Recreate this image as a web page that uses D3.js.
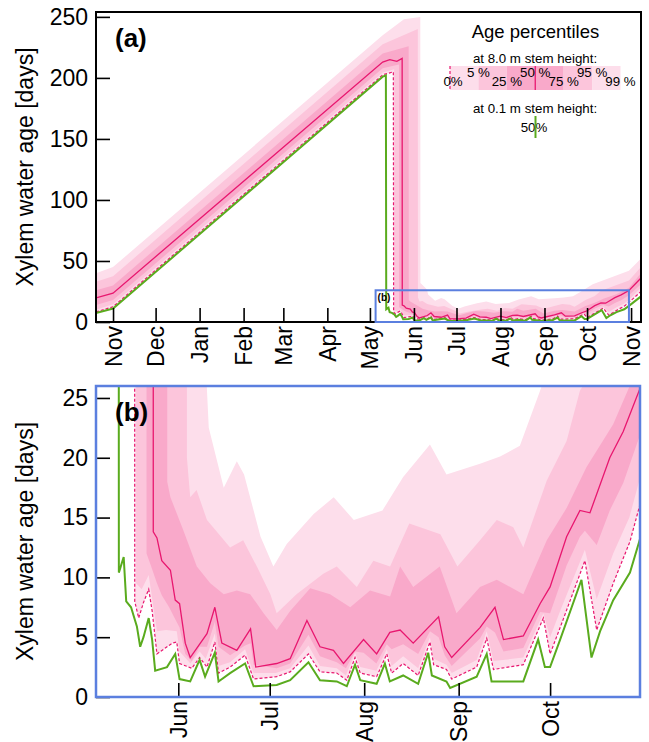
<!DOCTYPE html>
<html>
<head>
<meta charset="utf-8">
<script src="https://cdn.jsdelivr.net/npm/d3@7"></script>
<style>
  body { margin: 0; background: #fff; }
  svg { font-family: "Liberation Sans", Arial, sans-serif; }
</style>
</head>
<body>
<svg id="chart" width="649" height="742"></svg>
<script>
// ---- data: [date "YYYY-MM-DD HH", xylem water age in days] ----
// 50% at 0.1 m stem height (green)
var green01 = [
  ["2014-10-20 00", 7.4], ["2014-11-01 00", 11], ["2015-05-10 00", 201], ["2015-05-12 06", 202],
  ["2015-05-12 12", 10.4], ["2015-05-14 02", 11.7], ["2015-05-14 22", 8.0], ["2015-05-16 12", 7.5],
  ["2015-05-18 10", 5.9], ["2015-05-19 12", 4.2], ["2015-05-20 14", 5.0], ["2015-05-22 07", 6.6],
  ["2015-05-23 10", 4.8], ["2015-05-24 10", 2.2], ["2015-05-28 07", 2.5], ["2015-05-31 00", 3.6],
  ["2015-06-01 10", 1.5], ["2015-06-04 22", 1.3], ["2015-06-08 00", 3.1], ["2015-06-09 19", 1.7],
  ["2015-06-13 00", 3.7], ["2015-06-14 05", 1.3], ["2015-06-18 00", 2.0], ["2015-06-22 22", 2.8],
  ["2015-06-25 17", 0.9], ["2015-07-03 07", 1.0], ["2015-07-07 17", 1.4], ["2015-07-13 17", 2.9],
  ["2015-07-17 12", 1.4], ["2015-07-23 00", 1.3], ["2015-07-26 07", 0.9], ["2015-07-29 00", 2.7],
  ["2015-07-30 17", 1.4], ["2015-08-05 02", 1.1], ["2015-08-07 19", 2.8], ["2015-08-09 10", 1.3],
  ["2015-08-13 19", 1.8], ["2015-08-18 17", 1.1], ["2015-08-22 00", 3.7], ["2015-08-23 05", 1.8],
  ["2015-08-28 00", 1.3], ["2015-08-29 05", 0.75], ["2015-09-06 22", 1.7], ["2015-09-10 05", 3.6],
  ["2015-09-11 19", 1.3], ["2015-09-22 05", 1.3], ["2015-09-27 02", 4.8], ["2015-09-29 07", 2.5],
  ["2015-10-01 00", 2.5], ["2015-10-04 07", 4.8], ["2015-10-11 07", 9.8], ["2015-10-14 14", 3.3],
  ["2015-10-17 10", 5.5], ["2015-10-21 17", 8.1], ["2015-10-27 05", 10.4], ["2015-10-30 12", 13.2],
  ["2015-11-08 00", 21]
];
// percentiles at 8.0 m stem height
var p0 = [
  ["2014-10-20 00", 8.2], ["2014-11-01 00", 12.5], ["2015-05-10 00", 202.5], ["2015-05-17 12", 205],
  ["2015-05-17 17", 8.0], ["2015-05-19 00", 6.6], ["2015-05-20 14", 7.9], ["2015-05-22 07", 9.0],
  ["2015-05-23 10", 7.2], ["2015-05-25 00", 3.6], ["2015-05-30 00", 4.5], ["2015-05-31 12", 4.6],
  ["2015-06-01 10", 2.8], ["2015-06-05 10", 2.4], ["2015-06-08 00", 3.3], ["2015-06-10 10", 2.5],
  ["2015-06-13 00", 4.6], ["2015-06-14 05", 2.0], ["2015-06-18 00", 2.5], ["2015-06-22 22", 3.5],
  ["2015-06-25 17", 1.5], ["2015-07-03 07", 1.7], ["2015-07-07 17", 2.1], ["2015-07-13 17", 3.6],
  ["2015-07-17 12", 2.1], ["2015-07-23 00", 2.0], ["2015-07-26 07", 1.4], ["2015-07-29 00", 3.3],
  ["2015-07-30 17", 2.0], ["2015-08-05 02", 1.7], ["2015-08-08 10", 3.6], ["2015-08-10 00", 2.0],
  ["2015-08-13 19", 2.8], ["2015-08-18 17", 1.8], ["2015-08-22 14", 4.6], ["2015-08-23 19", 2.7],
  ["2015-08-28 00", 2.3], ["2015-08-29 17", 1.5], ["2015-09-06 22", 2.5], ["2015-09-10 05", 4.9],
  ["2015-09-12 10", 2.3], ["2015-09-22 05", 2.7], ["2015-09-28 19", 6.6], ["2015-10-01 00", 3.6],
  ["2015-10-04 07", 5.8], ["2015-10-12 10", 11.4], ["2015-10-16 07", 5.6], ["2015-10-21 17", 9.5],
  ["2015-10-27 05", 13.0], ["2015-10-30 12", 16.1], ["2015-11-08 00", 25]
];
var p5 = [
  ["2014-10-20 00", 10], ["2014-11-01 00", 14.5], ["2015-05-10 00", 204.5], ["2015-05-18 02", 207],
  ["2015-05-18 04", 9.5], ["2015-05-20 00", 9], ["2015-05-22 07", 10.2], ["2015-05-25 00", 5.5],
  ["2015-05-28 00", 5.6], ["2015-05-31 12", 5.5], ["2015-06-01 10", 3.8], ["2015-06-05 00", 2.8],
  ["2015-06-08 00", 3.8], ["2015-06-10 00", 3.2], ["2015-06-13 00", 5.3], ["2015-06-14 05", 2.6],
  ["2015-06-18 00", 2.9], ["2015-06-22 22", 4.0], ["2015-06-25 17", 2.0], ["2015-07-03 00", 2.0],
  ["2015-07-07 17", 2.4], ["2015-07-13 17", 4.3], ["2015-07-17 12", 2.6], ["2015-07-23 00", 2.4],
  ["2015-07-26 00", 1.8], ["2015-07-29 00", 3.7], ["2015-07-30 17", 2.5], ["2015-08-05 00", 2.2],
  ["2015-08-08 10", 4.0], ["2015-08-10 00", 2.6], ["2015-08-13 19", 3.4], ["2015-08-18 17", 2.4],
  ["2015-08-22 14", 5.0], ["2015-08-23 19", 3.2], ["2015-08-28 00", 2.7], ["2015-08-29 17", 2.0],
  ["2015-09-06 22", 3.1], ["2015-09-10 05", 5.5], ["2015-09-12 10", 3.0], ["2015-09-22 05", 3.3],
  ["2015-09-28 19", 7.0], ["2015-10-01 00", 5.0], ["2015-10-04 07", 7.2], ["2015-10-12 10", 12.3],
  ["2015-10-16 07", 8.2], ["2015-10-21 17", 12.0], ["2015-10-27 00", 15.0], ["2015-10-30 12", 18.3],
  ["2015-11-08 00", 28]
];
var p25 = [
  ["2014-10-20 00", 14], ["2014-11-01 00", 18], ["2015-05-10 00", 208], ["2015-05-21 12", 211],
  ["2015-05-21 14", 12], ["2015-05-23 00", 11], ["2015-05-25 00", 9.5], ["2015-05-26 14", 8.5],
  ["2015-05-29 00", 7.5], ["2015-05-31 00", 6.5], ["2015-06-01 10", 5.8], ["2015-06-03 07", 3.6],
  ["2015-06-05 10", 3.0], ["2015-06-08 00", 4.2], ["2015-06-10 10", 4.2], ["2015-06-13 00", 6.3],
  ["2015-06-14 05", 4.2], ["2015-06-18 00", 3.5], ["2015-06-22 22", 4.3], ["2015-06-24 17", 4.5],
  ["2015-06-25 17", 2.7], ["2015-07-03 07", 2.4], ["2015-07-07 17", 2.8], ["2015-07-13 17", 5.2],
  ["2015-07-17 12", 3.4], ["2015-07-23 00", 2.9], ["2015-07-26 00", 2.4], ["2015-07-29 00", 3.8],
  ["2015-07-31 19", 3.7], ["2015-08-05 00", 2.8], ["2015-08-08 10", 4.4], ["2015-08-10 00", 4.0],
  ["2015-08-13 19", 4.4], ["2015-08-18 17", 3.6], ["2015-08-22 14", 5.5], ["2015-08-25 10", 5.0],
  ["2015-08-27 10", 3.5], ["2015-08-29 17", 2.6], ["2015-09-08 00", 4.9], ["2015-09-10 05", 5.9],
  ["2015-09-12 22", 5.4], ["2015-09-15 17", 3.8], ["2015-09-22 05", 4.1], ["2015-09-27 17", 7.1],
  ["2015-10-01 00", 7.0], ["2015-10-04 07", 9.4], ["2015-10-06 10", 11.0], ["2015-10-10 19", 13.4],
  ["2015-10-12 10", 13.9], ["2015-10-16 07", 12.7], ["2015-10-20 14", 15.6], ["2015-10-25 00", 17.9],
  ["2015-10-30 12", 21.9], ["2015-11-08 00", 31]
];
var p50 = [
  ["2014-10-20 00", 19.7], ["2014-11-01 00", 23.6], ["2015-05-10 00", 213], ["2015-05-15 00", 215],
  ["2015-05-20 00", 213.5], ["2015-05-23 17", 216], ["2015-05-23 19", 13.8], ["2015-05-25 00", 13.3],
  ["2015-05-26 14", 11.4], ["2015-05-29 10", 10.6], ["2015-05-31 00", 8.1], ["2015-06-01 10", 7.8],
  ["2015-06-03 07", 4.5], ["2015-06-04 22", 3.3], ["2015-06-10 10", 5.3], ["2015-06-13 00", 7.5],
  ["2015-06-15 07", 4.5], ["2015-06-20 05", 3.9], ["2015-06-24 17", 5.7], ["2015-06-26 10", 2.5],
  ["2015-07-03 07", 2.8], ["2015-07-07 17", 3.2], ["2015-07-13 05", 6.4], ["2015-07-17 12", 4.2],
  ["2015-07-21 22", 3.9], ["2015-07-25 05", 2.8], ["2015-07-31 19", 4.8], ["2015-08-05 02", 3.6],
  ["2015-08-09 10", 5.4], ["2015-08-12 19", 5.6], ["2015-08-17 02", 4.5], ["2015-08-25 10", 6.7],
  ["2015-08-27 10", 4.2], ["2015-08-29 17", 3.3], ["2015-09-08 00", 5.8], ["2015-09-12 22", 7.5],
  ["2015-09-15 17", 4.8], ["2015-09-22 05", 5.1], ["2015-09-27 17", 7.8], ["2015-10-01 00", 9.2],
  ["2015-10-06 10", 13.4], ["2015-10-10 19", 15.6], ["2015-10-14 02", 15.4], ["2015-10-20 14", 20.0],
  ["2015-10-25 00", 22.2], ["2015-10-30 12", 25.8], ["2015-11-08 00", 36]
];
var p75 = [
  ["2014-10-20 00", 26], ["2014-11-01 00", 30], ["2015-05-10 00", 220], ["2015-05-28 07", 226],
  ["2015-05-28 09", 18], ["2015-05-29 10", 16.7], ["2015-06-02 17", 13.9], ["2015-06-07 02", 10.9],
  ["2015-06-11 12", 9.5], ["2015-06-15 22", 8.6], ["2015-06-20 05", 8.9], ["2015-06-24 14", 8.6],
  ["2015-06-29 00", 7.0], ["2015-07-03 07", 5.6], ["2015-07-07 17", 7.2], ["2015-07-14 07", 9.1],
  ["2015-07-20 19", 8.6], ["2015-07-27 10", 7.5], ["2015-08-02 22", 8.9], ["2015-08-09 12", 8.4],
  ["2015-08-12 19", 10.9], ["2015-08-17 02", 9.2], ["2015-08-25 19", 10.9], ["2015-08-31 07", 7.0],
  ["2015-09-08 00", 9.2], ["2015-09-13 12", 9.8], ["2015-09-22 05", 8.6], ["2015-09-29 22", 13.1],
  ["2015-10-06 10", 15.8], ["2015-10-12 22", 19.2], ["2015-10-21 17", 22.8], ["2015-10-30 12", 28],
  ["2015-11-08 00", 40]
];
var p95 = [
  ["2014-10-20 00", 33], ["2014-11-01 00", 37.5], ["2015-05-10 00", 227.5], ["2015-06-03 18", 240],
  ["2015-06-03 20", 20], ["2015-06-04 22", 16.7], ["2015-06-07 00", 17.3], ["2015-06-10 10", 14.8],
  ["2015-06-18 00", 12.5], ["2015-06-22 07", 13.1], ["2015-06-26 19", 10.9], ["2015-07-01 05", 8.6],
  ["2015-07-03 07", 7.0], ["2015-07-09 19", 8.6], ["2015-07-18 14", 10.3], ["2015-07-23 00", 10.9],
  ["2015-07-29 14", 9.2], ["2015-08-04 00", 11.4], ["2015-08-09 12", 10.9], ["2015-08-15 19", 14.5],
  ["2015-08-26 00", 13.6], ["2015-08-31 14", 10.9], ["2015-09-08 00", 13.1], ["2015-09-13 12", 14.8],
  ["2015-09-18 22", 14.2], ["2015-09-22 05", 12.5], ["2015-09-29 22", 18.1], ["2015-10-06 10", 21.4],
  ["2015-10-10 19", 25.6], ["2015-10-30 12", 34], ["2015-11-08 00", 45]
];
var p99 = [
  ["2014-10-20 00", 40], ["2014-11-01 00", 45], ["2015-05-10 00", 235], ["2015-05-25 00", 248],
  ["2015-06-05 12", 250], ["2015-06-05 14", 32], ["2015-06-09 00", 28], ["2015-06-10 06", 26.5],
  ["2015-06-11 00", 22.5], ["2015-06-15 22", 17.5], ["2015-06-20 05", 19.7], ["2015-06-22 14", 18.6],
  ["2015-06-28 00", 13.4], ["2015-07-02 05", 10.9], ["2015-07-06 14", 12.8], ["2015-07-15 10", 15.3],
  ["2015-07-22 00", 16.7], ["2015-07-28 14", 14.8], ["2015-08-07 00", 15.6], ["2015-08-13 19", 18.4],
  ["2015-08-22 14", 21.1], ["2015-08-28 00", 18.6], ["2015-09-08 00", 19.5], ["2015-09-14 14", 20.1],
  ["2015-09-21 02", 21], ["2015-09-27 17", 25.6], ["2015-10-05 00", 31], ["2015-10-30 12", 42],
  ["2015-11-08 00", 52]
];

// axis ranges / ticks
var fullRange = ["2014-10-20 00", "2015-11-08 00"];
var zoomRange = ["2015-05-05 00", "2015-10-30 12"];
var yTicksA = [0, 50, 100, 150, 200, 250];
var yTicksB = [0, 5, 10, 15, 20, 25];
var legendPct = [0, 5, 25, 50, 75, 95, 99];
var legendLabels = ["0%", "5 %", "25 %", "50 %", "75 %", "95 %", "99 %"];

var light = "#fddeeb", mid = "#fcc5db", dark = "#f9a9ca";
var pink = "#e8176f", green = "#5aab1e", blue = "#5b7fdf";

var parse = d3.timeParse("%Y-%m-%d %H");
var svg = d3.select("#chart");

// filled from zero upwards, back to front, so each band shows between two percentiles
var fills = [
  {data: p99, color: light}, {data: p95, color: mid}, {data: p75, color: dark},
  {data: p25, color: mid}, {data: p5, color: light}, {data: p0, color: "#fff"}
];

function drawPanel(key, x, y, yTicks, frameColor, frameWidth) {
  var l = x.range()[0], r = x.range()[1], t = y.range()[1], b = y.range()[0];
  var g = svg.append("g");

  svg.append("clipPath").attr("id", "clip" + key)
    .append("rect").attr("x", l).attr("y", t).attr("width", r - l).attr("height", b - t);
  var plot = g.append("g").attr("clip-path", "url(#clip" + key + ")");

  var area = d3.area()
    .x(function(d) { return x(parse(d[0])); })
    .y0(b)
    .y1(function(d) { return y(d[1]); });
  var line = d3.line()
    .x(function(d) { return x(parse(d[0])); })
    .y(function(d) { return y(d[1]); });

  fills.forEach(function(f) {
    plot.append("path").datum(f.data).attr("fill", f.color).attr("d", area);
  });
  plot.append("path").datum(p0).attr("fill", "none").attr("stroke", pink)
    .attr("stroke-width", 1.2).attr("stroke-dasharray", "3,2").attr("d", line);
  plot.append("path").datum(p50).attr("fill", "none").attr("stroke", pink)
    .attr("stroke-width", 1.3).attr("d", line);
  plot.append("path").datum(green01).attr("fill", "none").attr("stroke", green)
    .attr("stroke-width", 2).attr("d", line);

  // y axis, ticks pointing inward
  var ya = g.append("g").attr("transform", "translate(" + l + ",0)")
    .call(d3.axisLeft(y).tickValues(yTicks).tickSize(-14).tickPadding(8));
  // x axis, month ticks, labels turned upright
  var xa = g.append("g").attr("transform", "translate(0," + b + ")")
    .call(d3.axisBottom(x).ticks(d3.timeMonth.every(1))
      .tickFormat(d3.timeFormat("%b")).tickSize(-14));
  xa.selectAll("text")
    .attr("transform", "rotate(-90)")
    .attr("text-anchor", "end")
    .attr("x", -4).attr("y", 0).attr("dy", "0.35em");

  [ya, xa].forEach(function(a) {
    a.select(".domain").remove();
    a.selectAll("line").attr("stroke", "#000").attr("stroke-width", 1.6);
    a.selectAll("text").attr("fill", "#000").style("font-size", "23px")
      .style("font-family", "'Liberation Sans', Arial, sans-serif");
  });

  g.append("text")
    .attr("transform", "translate(33," + (t + b) / 2 + ") rotate(-90)")
    .attr("text-anchor", "middle")
    .style("font-size", "23px")
    .text("Xylem water age [days]");

  g.append("rect").attr("x", l).attr("y", t).attr("width", r - l).attr("height", b - t)
    .attr("fill", "none").attr("stroke", frameColor).attr("stroke-width", frameWidth);

  g.append("text").attr("x", l + 19).attr("y", t + 35)
    .style("font-size", "26px").style("font-weight", "bold")
    .text("(" + key + ")");
  return g;
}

// panel (a): full year
var xA = d3.scaleTime().domain(fullRange.map(parse)).range([96, 641]);
var yA = d3.scaleLinear().domain([0, 254]).range([322, 12]);
var gA = drawPanel("a", xA, yA, yTicksA, "#000", 2);

// panel (b): zoom of the growing season
var xB = d3.scaleTime().domain(zoomRange.map(parse)).range([96, 640]);
var yB = d3.scaleLinear().domain([0, 26]).range([697, 386]);
drawPanel("b", xB, yB, yTicksB, blue, 2.5);

// zoom box in panel (a)
var bx0 = xA(parse(zoomRange[0])), bx1 = xA(parse(zoomRange[1]));
gA.append("rect").attr("x", bx0).attr("y", yA(26))
  .attr("width", bx1 - bx0).attr("height", yA(0) - yA(26))
  .attr("fill", "none").attr("stroke", blue).attr("stroke-width", 2);
gA.append("text").attr("x", bx0 + 2).attr("y", yA(26) + 11)
  .style("font-size", "10px").style("font-weight", "bold").text("(b)");

// legend
var leg = svg.append("g");
var lx = d3.scalePoint().domain(legendPct).range([450, 620.5]);
var segColors = [light, mid, dark, dark, mid, light];
leg.append("text").attr("x", 535.5).attr("y", 38).attr("text-anchor", "middle")
  .style("font-size", "18.5px").text("Age percentiles");
leg.append("text").attr("x", 535).attr("y", 63).attr("text-anchor", "middle")
  .style("font-size", "13.3px").text("at 8.0 m stem height:");
leg.selectAll("rect.seg").data(segColors).enter().append("rect")
  .attr("x", function(d, i) { return lx(legendPct[i]); })
  .attr("width", function(d, i) { return lx(legendPct[i + 1]) - lx(legendPct[i]); })
  .attr("y", 66).attr("height", 24).attr("fill", function(d) { return d; });
leg.append("line").attr("x1", lx(0)).attr("x2", lx(0)).attr("y1", 66).attr("y2", 90)
  .attr("stroke", pink).attr("stroke-width", 1.2).attr("stroke-dasharray", "3,2");
leg.append("line").attr("x1", lx(50)).attr("x2", lx(50)).attr("y1", 66).attr("y2", 90)
  .attr("stroke", pink).attr("stroke-width", 1.3);
leg.selectAll("text.pct").data(legendPct).enter().append("text")
  .attr("x", function(d, i) { return lx(d) + (i === 0 ? 3 : 0); })
  .attr("y", function(d, i) { return i % 2 ? 77 : 86; })
  .attr("text-anchor", "middle")
  .style("font-size", "13.3px")
  .text(function(d, i) { return legendLabels[i]; });
leg.append("text").attr("x", 535).attr("y", 112.5).attr("text-anchor", "middle")
  .style("font-size", "13.3px").text("at 0.1 m stem height:");
leg.append("text").attr("x", 534).attr("y", 131.5).attr("text-anchor", "middle")
  .style("font-size", "13.3px").text("50%");
leg.append("line").attr("x1", 535.5).attr("x2", 535.5).attr("y1", 116).attr("y2", 138)
  .attr("stroke", green).attr("stroke-width", 2);
</script>
</body>
</html>
